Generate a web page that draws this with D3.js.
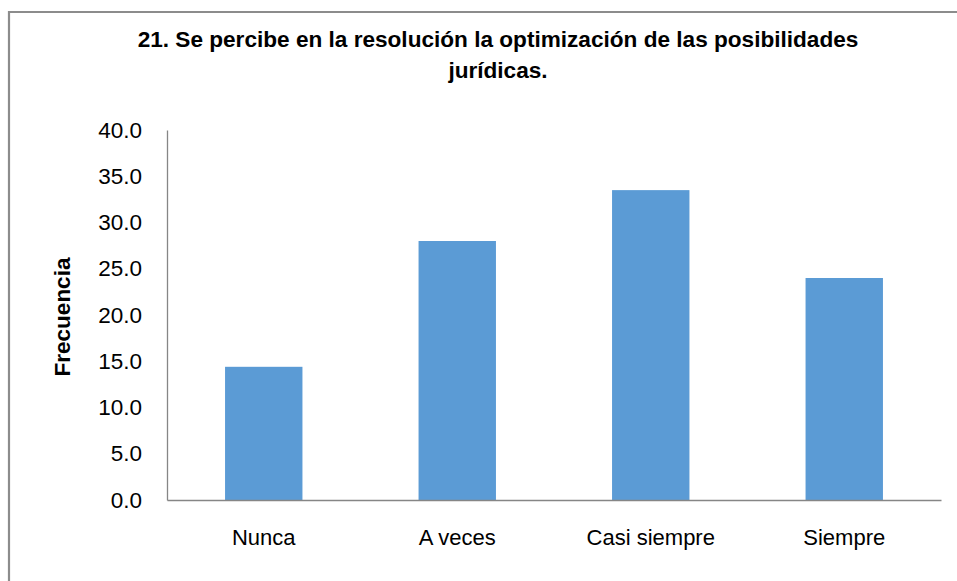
<!DOCTYPE html>
<html><head><meta charset="utf-8">
<script src="https://cdn.jsdelivr.net/npm/d3@7"></script>
<style>body{margin:0;background:#fff}svg{display:block}</style>
</head><body>
<svg id="c" width="957" height="581"></svg>
<script>
const categories = ["Nunca", "A veces", "Casi siempre", "Siempre"];
const values = [14.4, 28.0, 33.5, 24.0];
const yTicks = [0, 5, 10, 15, 20, 25, 30, 35, 40];
const titleLines = ["21. Se percibe en la resolución la optimización de las posibilidades", "jurídicas."];
const yTitle = "Frecuencia";

const svg = d3.select("#c");
const font = "'Liberation Sans', Arial, sans-serif";
const m = {left: 167, right: 941, top: 130, bottom: 500};

// outer border
svg.append("path").attr("d", "M9,600 V12 H960").attr("fill", "none").attr("stroke", "#8c8c8c").attr("stroke-width", 2.2);

const x = d3.scaleBand().domain(categories).range([m.left, m.right]).paddingInner(0.6).paddingOuter(0.3);
const y = d3.scaleLinear().domain([0, 40]).range([m.bottom, m.top]);

svg.append("g").selectAll("rect").data(values).join("rect")
  .attr("x", (d, i) => x(categories[i]))
  .attr("y", d => y(d))
  .attr("width", x.bandwidth())
  .attr("height", d => y(0) - y(d))
  .attr("fill", "#5b9bd5");

const yAxis = svg.append("g").attr("transform", `translate(${m.left},0)`)
  .call(d3.axisLeft(y).tickValues(yTicks).tickFormat(d3.format(".1f")).tickSize(0).tickPadding(25));
yAxis.select(".domain").attr("stroke", "#868686").attr("stroke-width", 1.3);
yAxis.selectAll("text").attr("font-family", font).attr("font-size", 22.5).attr("fill", "#000");

const xAxis = svg.append("g").attr("transform", `translate(0,${m.bottom})`)
  .call(d3.axisBottom(x).tickSize(0).tickPadding(29));
xAxis.select(".domain").attr("stroke", "#868686").attr("stroke-width", 1.3);
xAxis.selectAll("text").attr("font-family", font).attr("font-size", 22).attr("fill", "#000");

svg.append("g").selectAll("text").data(titleLines).join("text")
  .attr("x", 498).attr("y", (d, i) => 47 + i * 31)
  .attr("text-anchor", "middle").attr("font-family", font).attr("font-weight", "bold").attr("font-size", 22.6)
  .text(d => d);

svg.append("text").attr("transform", "translate(70,317) rotate(-90)")
  .attr("text-anchor", "middle").attr("font-family", font).attr("font-weight", "bold").attr("font-size", 22.5)
  .text(yTitle);
</script>
</body></html>
